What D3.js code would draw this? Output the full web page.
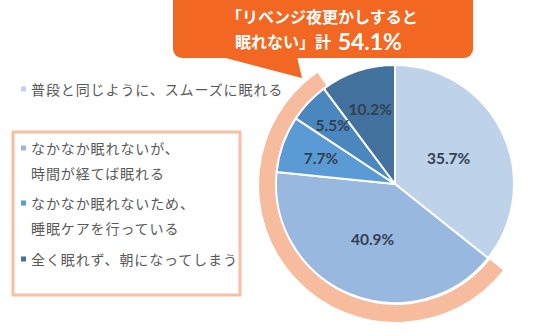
<!DOCTYPE html>
<html lang="ja">
<head>
<meta charset="utf-8">
<script src="https://cdn.jsdelivr.net/npm/d3@7"></script>
<style>
  html, body { margin: 0; padding: 0; background: #fff; }
  svg { display: block; }
</style>
</head>
<body>
<svg id="chart" width="536" height="335"></svg>
<script>
// Sleep after "revenge bedtime procrastination" — share of respondents (%)
const sliceValues = [35.7, 40.9, 7.7, 5.5, 10.2];
const sliceColors = ["#BED2EA", "#98B8DF", "#5B9BD5", "#4B87BF", "#41719C"];

// Legend rows: text lines and the slice each row refers to
const legendLines = [
  ["普段と同じように、スムーズに眠れる"],
  ["なかなか眠れないが、", "時間が経てば眠れる"],
  ["なかなか眠れないため、", "睡眠ケアを行っている"],
  ["全く眠れず、朝になってしまう"]
];
const legendSlice = [0, 1, 2, 4];

// Slices grouped by the highlight ring and callout
const highlightSlices = [1, 2, 3];
const calloutLine1 = "「リベンジ夜更かしすると";
const calloutLine2 = "眠れない」計 ";
const calloutTotal = "54.1%";

const svg = d3.select("#chart");
const cx = 395, cy = 184, R = 119;

// ---- Pie ----
const pie = d3.pie().sort(null).value(d => d)(sliceValues);
const arc = d3.arc().innerRadius(0).outerRadius(R);

// Highlight ring around the "can't sleep" slices
const ringStart = pie[highlightSlices[0]].startAngle;
const ringEnd = pie[highlightSlices[highlightSlices.length - 1]].endAngle;
const ringArc = d3.arc().innerRadius(R + 1).outerRadius(R + 18)
  .startAngle(ringStart).endAngle(ringEnd + 0.03);
svg.append("path")
  .attr("transform", `translate(${cx + 1},${cy + 1})`)
  .attr("d", ringArc())
  .attr("fill", "#F7BC9E");

const g = svg.append("g").attr("transform", `translate(${cx},${cy})`);
g.selectAll("path.slice")
  .data(pie)
  .join("path")
  .attr("class", "slice")
  .attr("d", arc)
  .attr("fill", (d, i) => sliceColors[i])
  .attr("stroke", "#fff")
  .attr("stroke-width", 2)
  .attr("stroke-linejoin", "round");

// Value labels: large slices nearer the centre, small ones toward the rim
g.selectAll("text.val")
  .data(pie)
  .join("text")
  .attr("class", "val")
  .each(function (d) {
    const share = d.data / d3.sum(sliceValues);
    const r = share > 0.2 ? R * 0.5 : (share < 0.06 ? R * 0.72 : R * 0.66);
    const [x, y] = d3.arc().innerRadius(r).outerRadius(r).centroid(d);
    d3.select(this).attr("x", x).attr("y", y);
  })
  .attr("text-anchor", "middle")
  .attr("dominant-baseline", "central")
  .attr("font-family", "Lato, 'Liberation Sans', sans-serif")
  .attr("font-weight", 700)
  .attr("font-size", 15.5)
  .attr("fill", "#333F50")
  .text(d => d3.format(".1f")(d.data) + "%");

// ---- Callout bubble ----
const orange = "#F26722";
svg.append("rect")
  .attr("x", 173).attr("y", -10)
  .attr("width", 300).attr("height", 68)
  .attr("rx", 9)
  .attr("fill", orange);
svg.append("path")
  .attr("d", d3.line()([[222, 57], [302, 78], [297, 57]]))
  .attr("fill", orange);

const cjk = "'Noto Sans CJK JP', 'Noto Sans CJK SC', sans-serif";
svg.append("text")
  .attr("x", 226).attr("y", 16)
  .attr("dominant-baseline", "central")
  .attr("font-family", cjk)
  .attr("font-weight", 700)
  .attr("font-size", 16)
  .attr("fill", "#fff")
  .text(calloutLine1);

const t2 = svg.append("text")
  .attr("x", 235).attr("y", 41)
  .attr("dominant-baseline", "central")
  .attr("fill", "#fff")
  .attr("font-weight", 700);
t2.append("tspan")
  .attr("font-family", cjk)
  .attr("font-size", 16)
  .text(calloutLine2);
t2.append("tspan")
  .attr("dx", 3)
  .attr("font-family", "Lato, 'Liberation Sans', sans-serif")
  .attr("font-size", 23)
  .text(calloutTotal);

// ---- Legend ----
svg.append("rect")
  .attr("x", 13).attr("y", 132)
  .attr("width", 227).attr("height", 163)
  .attr("fill", "none")
  .attr("stroke", "#F8BEA0")
  .attr("stroke-width", 3);

const rowY = [89, 148, 203, 259];
const lineGap = 25;
legendLines.forEach((lines, i) => {
  svg.append("rect")
    .attr("x", 21).attr("y", rowY[i] - 2.5)
    .attr("width", 5).attr("height", 5)
    .attr("fill", sliceColors[legendSlice[i]]);
  lines.forEach((line, j) => {
    svg.append("text")
      .attr("x", 31).attr("y", rowY[i] + j * lineGap)
      .attr("dominant-baseline", "central")
      .attr("font-family", cjk)
      .attr("font-size", 14)
      .attr("letter-spacing", 0.9)
      .attr("fill", "#595959")
      .text(line);
  });
});
</script>
</body>
</html>
